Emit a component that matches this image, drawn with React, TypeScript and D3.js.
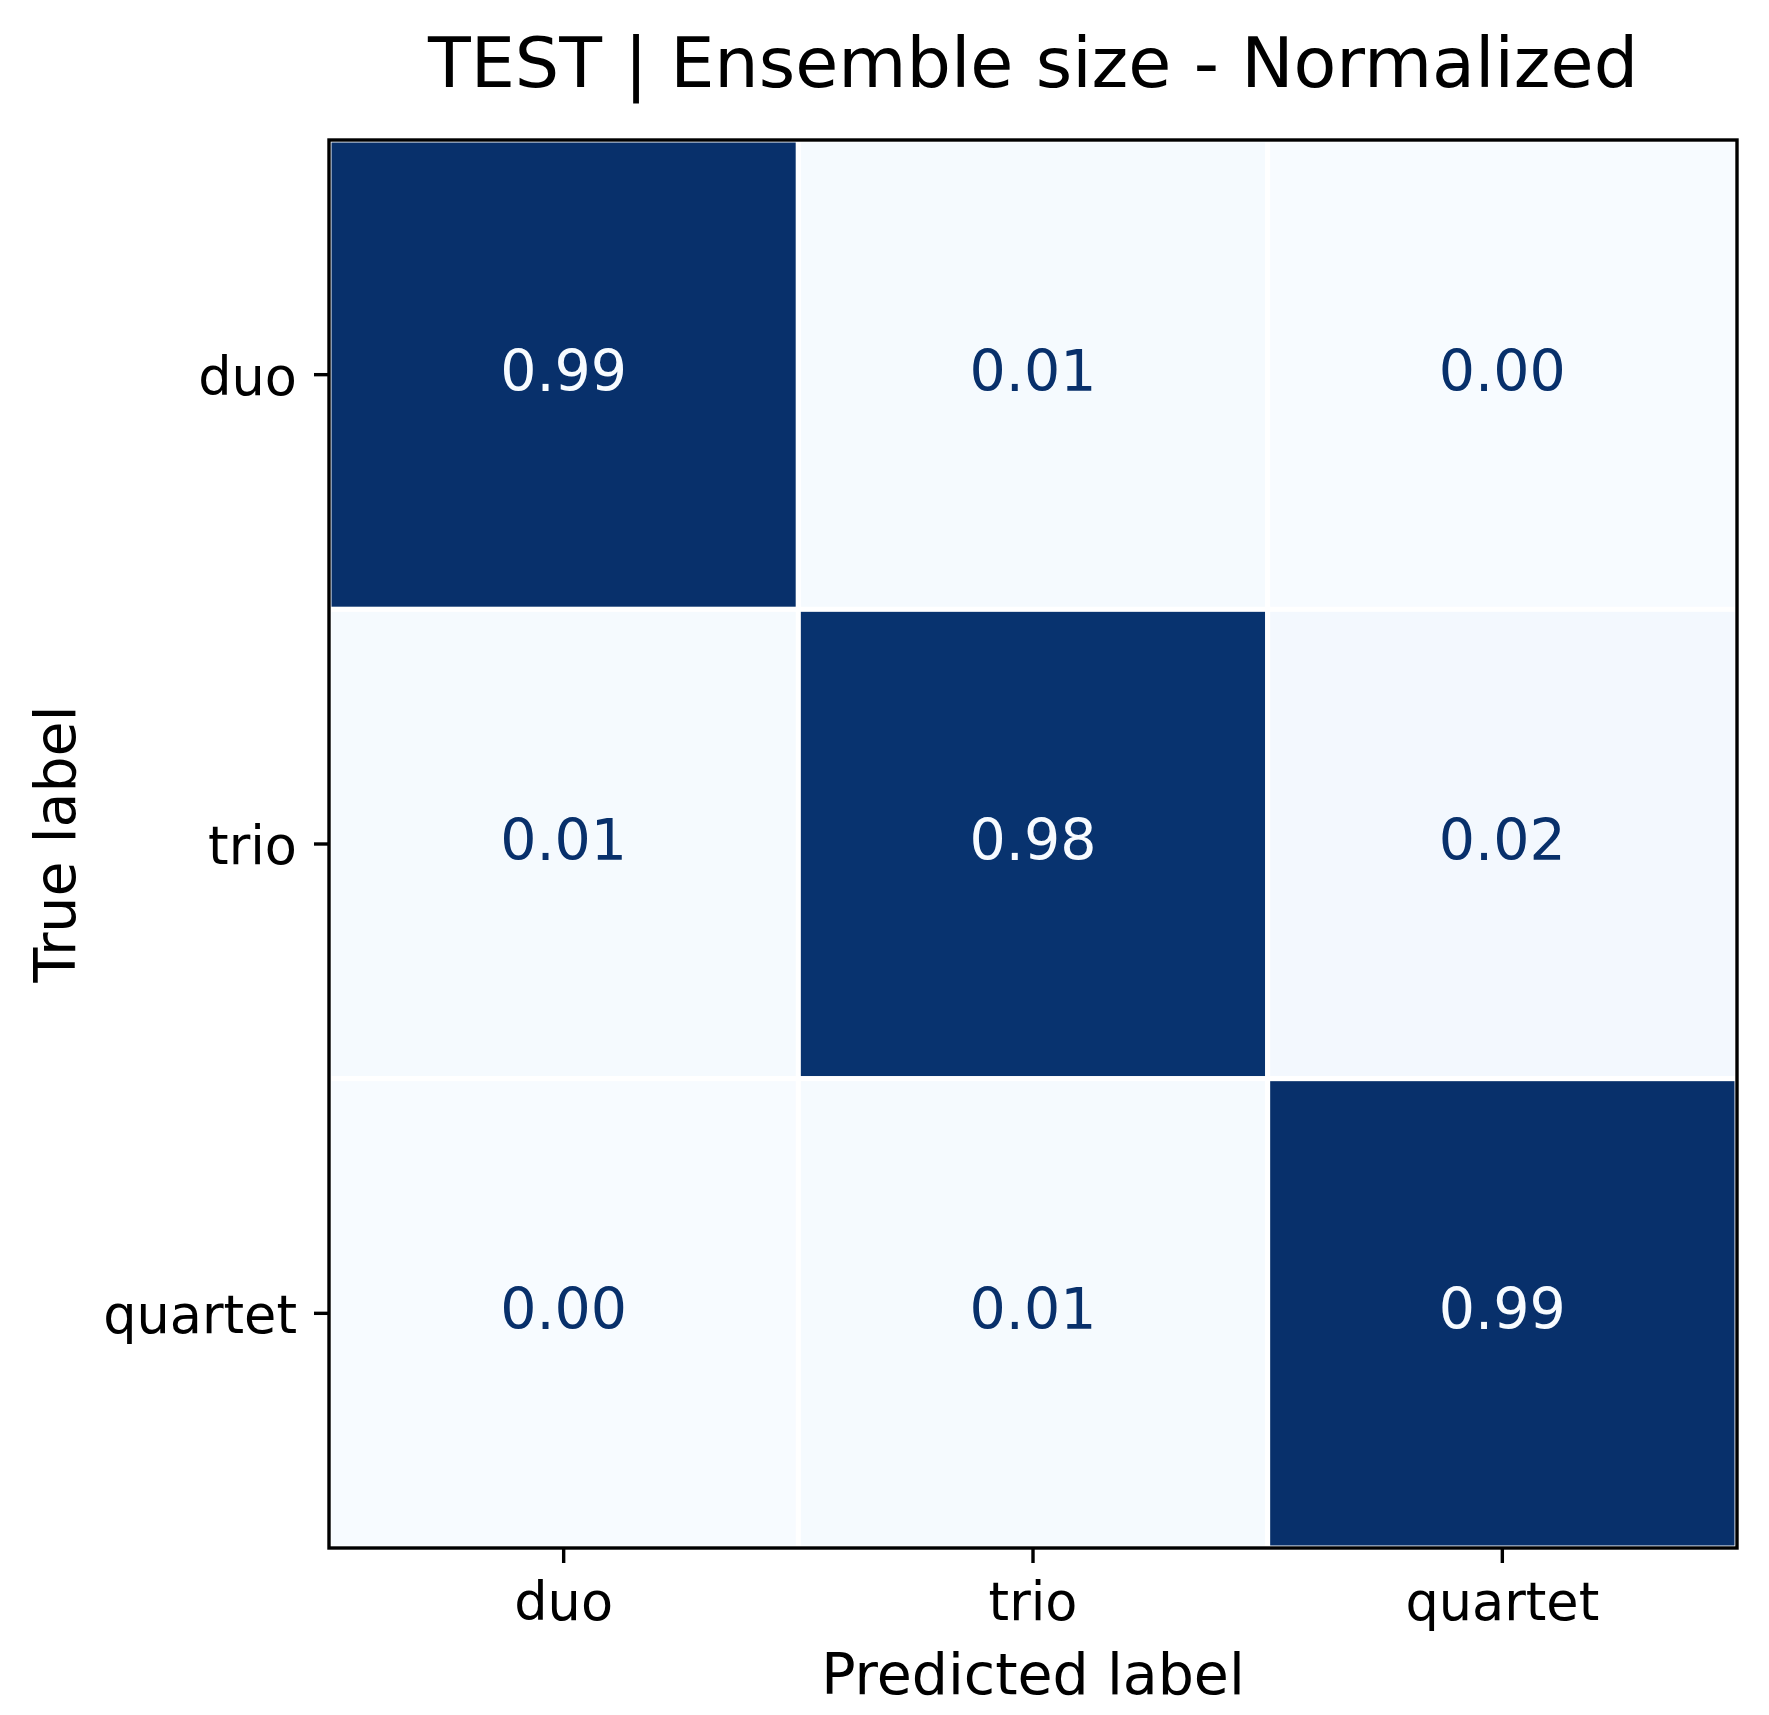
import React from 'react';
import * as d3 from 'd3';

const categories = ['duo', 'trio', 'quartet'];
const duoRow = [0.99, 0.01, 0.0];
const trioRow = [0.01, 0.98, 0.02];
const quartetRow = [0.0, 0.01, 0.99];
const rows = [duoRow, trioRow, quartetRow];

const WIDTH = 1769;
const HEIGHT = 1715;
const LEFT = 329;
const TOP = 140;
const SIDE = 1408;
const FONT = '"DejaVu Sans", sans-serif';

const App = () => {
  const x = d3.scaleBand().domain(categories).range([LEFT, LEFT + SIDE]);
  const y = d3.scaleBand().domain(categories).range([TOP, TOP + SIDE]);

  const values = rows.flat();
  const vmin = d3.min(values);
  const vmax = d3.max(values);
  const color = d3.scaleSequential(d3.interpolateBlues).domain([vmin, vmax]);
  const thresh = (vmin + vmax) / 2;
  const fmt = d3.format('.2f');

  const cells = rows.flatMap((row, i) =>
    row.map((v, j) => ({ row: categories[i], col: categories[j], v }))
  );

  return (
    <svg
      width={WIDTH}
      height={HEIGHT}
      style={{ position: 'absolute', left: 0, top: 0, background: '#fff' }}
      fontFamily={FONT}
    >
      <text x={LEFT + SIDE / 2} y={87} fontSize={70} textAnchor="middle" fill="#000">
        TEST | Ensemble size - Normalized
      </text>

      <g>
        {cells.map((d) => (
          <rect
            key={`${d.row}-${d.col}`}
            x={x(d.col)}
            y={y(d.row)}
            width={x.bandwidth()}
            height={y.bandwidth()}
            fill={color(d.v)}
            stroke="#fff"
            strokeWidth={5}
          />
        ))}
      </g>

      <g textAnchor="middle" fontSize={57}>
        {cells.map((d) => (
          <text
            key={`t-${d.row}-${d.col}`}
            x={x(d.col) + x.bandwidth() / 2}
            y={y(d.row) + y.bandwidth() / 2 + 16}
            fill={d.v > thresh ? '#f7fbff' : '#08306b'}
          >
            {fmt(d.v)}
          </text>
        ))}
      </g>

      <rect x={LEFT} y={TOP} width={SIDE} height={SIDE} fill="none" stroke="#000" strokeWidth={3.4} />

      <g fontSize={52.5} fill="#000">
        {categories.map((c) => {
          const cx = x(c) + x.bandwidth() / 2;
          return (
            <g key={`x-${c}`}>
              <line x1={cx} x2={cx} y1={TOP + SIDE} y2={TOP + SIDE + 15} stroke="#000" strokeWidth={3.4} />
              <text x={cx} y={1620} textAnchor="middle">
                {c}
              </text>
            </g>
          );
        })}
        {categories.map((c) => {
          const cy = y(c) + y.bandwidth() / 2;
          return (
            <g key={`y-${c}`}>
              <line x1={LEFT - 15} x2={LEFT} y1={cy} y2={cy} stroke="#000" strokeWidth={3.4} />
              <text x={297} y={cy + 20} textAnchor="end">
                {c}
              </text>
            </g>
          );
        })}
      </g>

      <text x={LEFT + SIDE / 2} y={1694} fontSize={57} textAnchor="middle" fill="#000">
        Predicted label
      </text>
      <text
        transform={`translate(75, ${TOP + SIDE / 2}) rotate(-90)`}
        fontSize={57}
        textAnchor="middle"
        fill="#000"
      >
        True label
      </text>
    </svg>
  );
};

export default App;
